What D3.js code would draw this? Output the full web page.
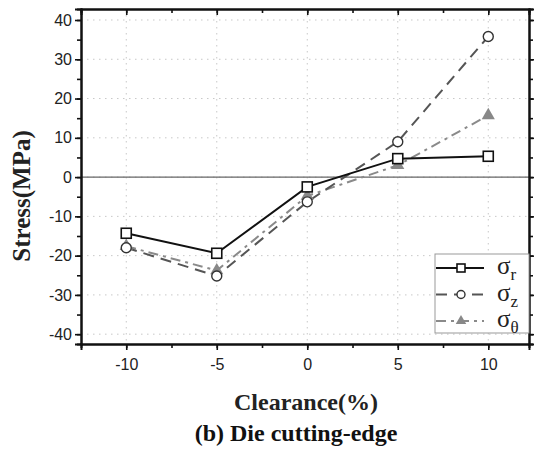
<!DOCTYPE html>
<html>
<head>
<meta charset="utf-8">
<script src="https://cdn.jsdelivr.net/npm/d3@7"></script>
<style>
  body { margin: 0; background: #fff; }
</style>
</head>
<body>
<div id="chart"></div>
<script>
var clearance = [-10, -5, 0, 5, 10];
var sigmaR = [-14.3, -19.4, -2.5, 4.7, 5.3];
var sigmaZ = [-18.0, -25.2, -6.3, 9.0, 35.8];
var sigmaT = [-17.6, -23.8, -4.8, 3.0, 15.7];
var xTicks = [-10, -5, 0, 5, 10];
var yTicks = [-40, -30, -20, -10, 0, 10, 20, 30, 40];

var W = 534, H = 453;
var margin = {top: 9, right: 5, bottom: 109, left: 81},
    width = W - margin.left - margin.right,
    height = H - margin.top - margin.bottom;

var svg = d3.select("#chart")
    .append("svg")
      .attr("width", W)
      .attr("height", H)
    .append("g")
      .attr("transform", "translate(" + margin.left + "," + margin.top + ")");

var x = d3.scaleLinear().domain([-12.5, 12.25]).range([0, width]);
var y = d3.scaleLinear().domain([-42.5, 42.8]).range([height, 0]);

// grid
svg.append("g").selectAll("line").data(xTicks).enter().append("line")
    .attr("x1", d => x(d)).attr("x2", d => x(d))
    .attr("y1", 0).attr("y2", height)
    .style("stroke", "#c8c8c8").style("stroke-dasharray", "1.5,4.5");
svg.append("g").selectAll("line").data(yTicks).enter().append("line")
    .attr("x1", 0).attr("x2", width)
    .attr("y1", d => y(d)).attr("y2", d => y(d))
    .style("stroke", "#c8c8c8").style("stroke-dasharray", "1.5,4.5");

// zero line
svg.append("line")
    .attr("x1", 0).attr("x2", width)
    .attr("y1", y(0)).attr("y2", y(0))
    .style("stroke", "#666").style("stroke-width", 1.2);

// axes
var tickFont = "'Liberation Sans', Arial, sans-serif";
var xMinor = d3.range(-10, 12, 2.5);
var yMinor = d3.range(-40, 41, 5);
var fmt = function(d) { return String(d); };

svg.append("g").attr("transform", "translate(0," + height + ")")
    .call(d3.axisBottom(x).tickValues(xTicks).tickSize(6).tickPadding(9).tickFormat(fmt));
svg.append("g").attr("transform", "translate(0," + height + ")")
    .call(d3.axisBottom(x).tickValues(xMinor).tickSize(4).tickFormat(""));
svg.append("g")
    .call(d3.axisLeft(y).tickValues(yTicks).tickSize(6).tickPadding(3).tickFormat(fmt));
svg.append("g")
    .call(d3.axisLeft(y).tickValues(yMinor).tickSize(4).tickFormat(""));
// mirror axes: top (inward), right (outward)
svg.append("g")
    .call(d3.axisBottom(x).tickValues(xTicks).tickSize(6).tickFormat(""));
svg.append("g")
    .call(d3.axisBottom(x).tickValues(xMinor).tickSize(4).tickFormat(""));
svg.append("g").attr("transform", "translate(" + width + ",0)")
    .call(d3.axisRight(y).tickValues(yTicks).tickSize(6).tickFormat(""));
svg.append("g").attr("transform", "translate(" + width + ",0)")
    .call(d3.axisRight(y).tickValues(yMinor).tickSize(4).tickFormat(""));

svg.selectAll(".domain").style("stroke", "#111").style("stroke-width", 2);
svg.selectAll(".tick line").style("stroke", "#111").style("stroke-width", 1.6);
svg.selectAll(".tick text").style("font-family", tickFont).style("font-size", "16px").attr("fill", "#222");

// series
var series = [
  {name: "r", vals: sigmaR, color: "#111", dash: null, marker: "square"},
  {name: "z", vals: sigmaZ, color: "#555", dash: "11,7", marker: "circle"},
  {name: "\u03b8", vals: sigmaT, color: "#8a8a8a", dash: "10,5,3,5", marker: "triangle"}
];

var line = d3.line().x(d => x(d[0])).y(d => y(d[1]));

function drawMarker(g, type, cx, cy, k) {
  if (type === "square") {
    g.append("rect").attr("x", cx - 5 * k).attr("y", cy - 5 * k).attr("width", 10 * k).attr("height", 10 * k)
      .style("fill", "#fff").style("stroke", "#111").style("stroke-width", 1.6);
  } else if (type === "circle") {
    g.append("circle").attr("cx", cx).attr("cy", cy).attr("r", 5 * k)
      .style("fill", "#fff").style("stroke", "#333").style("stroke-width", 1.4);
  } else {
    g.append("path").attr("d", d3.symbol().type(d3.symbolTriangle).size(75 * k * k)())
      .attr("transform", "translate(" + cx + "," + cy + ")")
      .style("fill", "#888");
  }
}

series.slice().reverse().forEach(function(s) {
  var pts = clearance.map((c, i) => [c, s.vals[i]]);
  svg.append("path").datum(pts).attr("d", line)
    .style("fill", "none").style("stroke", s.color).style("stroke-width", 2)
    .style("stroke-dasharray", s.dash);
});
series.slice().reverse().forEach(function(s) {
  var g = svg.append("g");
  clearance.forEach(function(c, i) { drawMarker(g, s.marker, x(c), y(s.vals[i]), 1); });
});

// legend
var serif = "'Liberation Serif', 'Times New Roman', serif";
var lg = svg.append("g").attr("transform", "translate(" + (435 - margin.left) + "," + (254 - margin.top) + ")");
lg.append("rect").attr("width", width - (435 - margin.left)).attr("height", 79)
  .style("fill", "#fff").style("stroke", "#999").style("stroke-width", 1);
series.forEach(function(s, i) {
  var ly = 14 + i * 26.5;
  lg.append("line").attr("x1", 1).attr("x2", 49).attr("y1", ly).attr("y2", ly)
    .style("stroke", s.color).style("stroke-width", 2).style("stroke-dasharray", s.dash);
  drawMarker(lg, s.marker, 26, ly, 0.8);
  var t = lg.append("text").attr("x", 62).attr("y", ly + 6)
    .style("font-family", serif).style("font-size", "25px").style("fill", "#222");
  t.append("tspan").text("\u03c3");
  t.append("tspan").attr("dy", 6).style("font-size", "17px").text(s.name);
});

// labels
d3.select("svg").append("text")
  .attr("transform", "translate(30,196) rotate(-90)")
  .attr("text-anchor", "middle")
  .style("font-family", serif).style("font-weight", "bold").style("font-size", "25px").style("fill", "#222")
  .text("Stress(MPa)");
d3.select("svg").append("text")
  .attr("x", 306).attr("y", 410).attr("text-anchor", "middle")
  .style("font-family", serif).style("font-weight", "bold").style("font-size", "24px").style("fill", "#222")
  .text("Clearance(%)");
d3.select("svg").append("text")
  .attr("x", 296).attr("y", 441).attr("text-anchor", "middle")
  .style("font-family", serif).style("font-weight", "bold").style("font-size", "24px").style("fill", "#111")
  .text("(b) Die cutting-edge");
</script>
</body>
</html>
